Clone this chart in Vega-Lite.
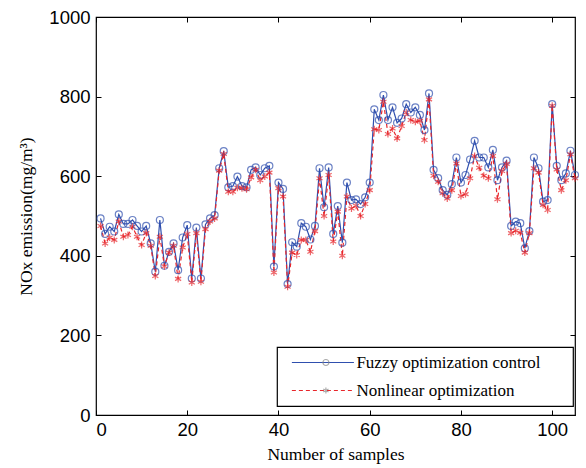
{
  "$schema": "https://vega.github.io/schema/vega-lite/v6.json",
  "width": 479,
  "height": 398,
  "autosize": "none",
  "padding": {"left": 96, "top": 17, "right": 11, "bottom": 53},
  "background": "white",
  "config": {
    "view": {"stroke": "black", "strokeWidth": 1.2},
    "legend": {"strokeWidth": 1.2},
    "axis": {"domain": false, "grid": false, "tickColor": "black", "tickSize": -5, "tickWidth": 1, "labelColor": "black", "labelFont": "Liberation Sans", "labelFontSize": 18.5, "titleFont": "Liberation Serif", "titleFontSize": 17.5, "titleFontWeight": "normal", "titleColor": "black"}
  },
  "data": {"values": [
    {"x":1,"F":494,"N":475},{"x":2,"F":455,"N":431},{"x":3,"F":473,"N":446},{"x":4,"F":461,"N":440},{"x":5,"F":504,"N":486},
    {"x":6,"F":480,"N":448},{"x":7,"F":480,"N":452},{"x":8,"F":490,"N":473},{"x":9,"F":475,"N":448},{"x":10,"F":461,"N":427},
    {"x":11,"F":475,"N":457},{"x":12,"F":431,"N":425},{"x":13,"F":360,"N":349},{"x":14,"F":490,"N":448},{"x":15,"F":375,"N":374},
    {"x":16,"F":410,"N":408},{"x":17,"F":431,"N":425},{"x":18,"F":364,"N":342},{"x":19,"F":446,"N":421},{"x":20,"F":477,"N":455},
    {"x":21,"F":343,"N":333},{"x":22,"F":471,"N":457},{"x":23,"F":343,"N":335},{"x":24,"F":479,"N":467},{"x":25,"F":494,"N":486},
    {"x":26,"F":502,"N":494},{"x":27,"F":620,"N":614},{"x":28,"F":663,"N":656},{"x":29,"F":572,"N":561},{"x":30,"F":575,"N":561},
    {"x":31,"F":599,"N":571},{"x":32,"F":575,"N":570},{"x":33,"F":572,"N":567},{"x":34,"F":616,"N":597},{"x":35,"F":622,"N":616},
    {"x":36,"F":603,"N":590},{"x":37,"F":620,"N":599},{"x":38,"F":626,"N":609},{"x":39,"F":373,"N":358},{"x":40,"F":584,"N":570},
    {"x":41,"F":568,"N":549},{"x":42,"F":329,"N":322},{"x":43,"F":434,"N":408},{"x":44,"F":423,"N":402},{"x":45,"F":482,"N":440},
    {"x":46,"F":473,"N":440},{"x":47,"F":441,"N":410},{"x":48,"F":475,"N":462},{"x":49,"F":620,"N":595},{"x":50,"F":522,"N":500},
    {"x":51,"F":622,"N":603},{"x":52,"F":455,"N":436},{"x":53,"F":525,"N":511},{"x":54,"F":433,"N":400},{"x":55,"F":584,"N":549},
    {"x":56,"F":540,"N":519},{"x":57,"F":542,"N":526},{"x":58,"F":530,"N":500},{"x":59,"F":547,"N":530},{"x":60,"F":584,"N":565},
    {"x":61,"F":768,"N":718},{"x":62,"F":741,"N":716},{"x":63,"F":804,"N":787},{"x":64,"F":741,"N":706},{"x":65,"F":773,"N":720},
    {"x":66,"F":734,"N":695},{"x":67,"F":745,"N":726},{"x":68,"F":781,"N":760},{"x":69,"F":760,"N":741},{"x":70,"F":773,"N":737},
    {"x":71,"F":754,"N":739},{"x":72,"F":716,"N":691},{"x":73,"F":808,"N":793},{"x":74,"F":616,"N":601},{"x":75,"F":595,"N":586},
    {"x":76,"F":565,"N":557},{"x":77,"F":553,"N":544},{"x":78,"F":580,"N":565},{"x":79,"F":647,"N":632},{"x":80,"F":584,"N":550},
    {"x":81,"F":603,"N":555},{"x":82,"F":642,"N":595},{"x":83,"F":689,"N":651},{"x":84,"F":647,"N":621},{"x":85,"F":647,"N":601},
    {"x":86,"F":622,"N":595},{"x":87,"F":666,"N":651},{"x":88,"F":590,"N":542},{"x":89,"F":622,"N":613},{"x":90,"F":639,"N":631},
    {"x":91,"F":475,"N":457},{"x":92,"F":486,"N":463},{"x":93,"F":482,"N":458},{"x":94,"F":419,"N":408},{"x":95,"F":462,"N":457},
    {"x":96,"F":647,"N":620},{"x":97,"F":620,"N":609},{"x":98,"F":536,"N":528},{"x":99,"F":540,"N":515},{"x":100,"F":781,"N":777},
    {"x":101,"F":626,"N":617},{"x":102,"F":590,"N":565},{"x":103,"F":607,"N":590},{"x":104,"F":664,"N":655},{"x":105,"F":603,"N":595}
  ]},
  "transform": [{"fold": ["F", "N"], "as": ["s", "v"]}],
  "layer": [
    {
      "mark": {"type": "line", "strokeWidth": 1.2},
      "encoding": {
        "x": {"field": "x", "type": "quantitative", "scale": {"domain": [0, 105], "nice": false, "zero": false},
              "axis": {"orient": "bottom", "values": [0, 20, 40, 60, 80, 100], "title": "Number of samples", "labelPadding": 10, "titlePadding": 7}},
        "y": {"field": "v", "type": "quantitative", "scale": {"domain": [0, 1000], "nice": false},
              "axis": {"orient": "left", "values": [0, 200, 400, 600, 800, 1000], "format": "d", "title": "NOx emission(mg/m³)", "labelPadding": 11, "titlePadding": 13}},
        "color": {"field": "s", "type": "nominal", "scale": {"domain": ["F", "N"], "range": ["#2f4fae", "#e8262b"]},
                  "legend": {"orient": "none", "legendX": 181, "legendY": 330, "title": null,
                             "fillColor": "white",
                             "padding": 7, "labelFont": "Liberation Serif", "labelFontSize": 17, "labelColor": "black", "labelLimit": 400,
                             "labelExpr": "datum.value == 'F' ? 'Fuzzy optimization control' : 'Nonlinear optimization'",
                             "symbolType": "M-5.17,0L5.17,0", "symbolSize": 144, "symbolStrokeWidth": 1.2, "symbolOffset": 30.4, "labelOffset": 25, "rowPadding": 10,
                             "encode": {"symbols": {"update": {
                               "strokeDash": {"signal": "datum.value == 'F' ? [1,0] : [4,3]"},
                               "fill": {"value": "transparent"}
                             }}}}},
        "strokeDash": {"field": "s", "type": "nominal", "scale": {"domain": ["F", "N"], "range": [[1, 0], [4, 3]]}, "legend": null}
      }
    },
    {
      "mark": {"type": "point", "filled": false, "strokeWidth": 1.2, "size": 49},
      "encoding": {
        "x": {"field": "x", "type": "quantitative", "scale": {"domain": [0, 105], "nice": false, "zero": false}, "axis": null},
        "y": {"field": "v", "type": "quantitative", "scale": {"domain": [0, 1000], "nice": false}, "axis": null},
        "color": {"field": "s", "type": "nominal", "legend": null},
        "shape": {"field": "s", "type": "nominal",
                  "scale": {"domain": ["F", "N", "Z"], "range": ["circle", "M0,-1L0,1M-0.87,-0.5L0.87,0.5M-0.87,0.5L0.87,-0.5", "square"]},
                  "legend": {"orient": "none", "legendX": 181, "legendY": 330, "title": null, "values": ["F", "N"], "padding": 7,
                             "strokeColor": "black",
                             "labelFont": "Liberation Serif", "labelFontSize": 17, "labelColor": "transparent", "labelLimit": 400,
                             "labelExpr": "'\u00a0'",
                             "symbolSize": 36, "symbolStrokeWidth": 1.2, "symbolOffset": 33.4, "labelOffset": 231, "rowPadding": 10,
                             "symbolFillColor": "transparent",
                             "encode": {"symbols": {"update": {
                               "stroke": {"signal": "datum.value == 'F' ? '#2f4fae' : '#e8262b'"},
                               "fill": {"value": "transparent"}
                             }}}}}
      }
    },
    {
      "mark": {"type": "point", "opacity": 0},
      "encoding": {
        "x": {"field": "x", "type": "quantitative", "scale": {"domain": [0, 105], "nice": false, "zero": false},
              "axis": {"orient": "top", "values": [0, 20, 40, 60, 80, 100], "labels": false, "title": null}},
        "y": {"field": "v", "type": "quantitative", "scale": {"domain": [0, 1000], "nice": false},
              "axis": {"orient": "right", "values": [0, 200, 400, 600, 800, 1000], "labels": false, "title": null}}
      }
    }
  ],
  "resolve": {"axis": {"x": "independent", "y": "independent"}}
}
